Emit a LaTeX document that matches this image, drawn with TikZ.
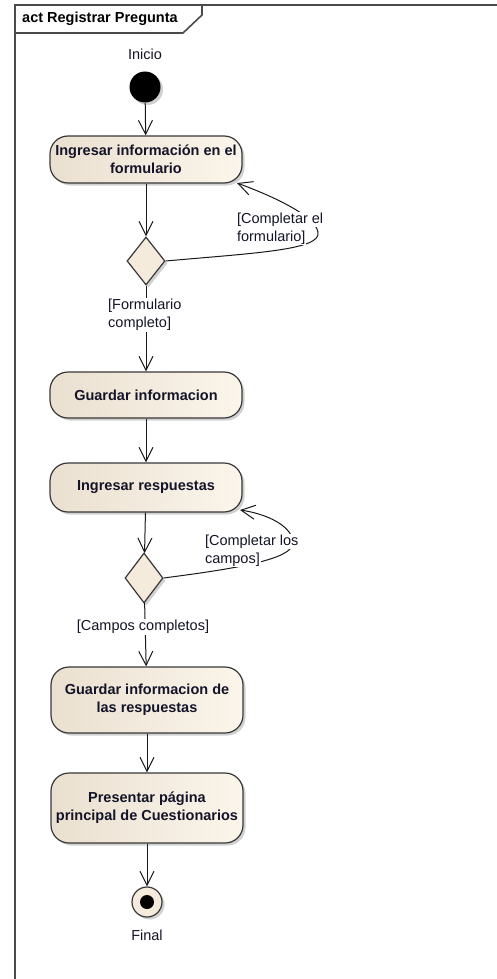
\documentclass[tikz,border=0pt]{standalone}
\usepackage{fontspec}
\setmainfont{Liberation Sans}
\usetikzlibrary{arrows.meta,shapes.geometric,shadows}
\definecolor{actleft}{RGB}{234,224,208}
\definecolor{actright}{RGB}{251,245,235}
\definecolor{actfill}{RGB}{244,235,221}
\definecolor{edgecol}{RGB}{25,25,25}
\definecolor{framecol}{RGB}{75,75,75}
\definecolor{txt}{RGB}{20,20,40}
\setlength{\fboxsep}{0.8pt}
\begin{document}
\begin{tikzpicture}[x=1pt,y=-1pt,
  font=\fontsize{14.5}{18}\selectfont, text=txt,
  softshadow/.style={drop shadow={shadow xshift=2.5pt,shadow yshift=-2.5pt,opacity=0.3,fill=black!60}},
  action/.style={draw=black!78, line width=1.2pt, rounded corners=18pt,
    left color=actleft, right color=actright, minimum width=192pt,
    align=center, inner sep=2pt, softshadow,
    font=\fontsize{14.5}{18}\selectfont\bfseries},
  decision/.style={diamond, draw=black!78, line width=1.2pt, fill=actfill,
    minimum width=38pt, minimum height=48pt, inner sep=0pt, softshadow},
  initial/.style={circle, fill=black, minimum size=31pt, inner sep=0pt, softshadow},
  final/.style={circle, draw=black!78, line width=1.2pt, fill=actfill,
    minimum size=30pt, inner sep=0pt, softshadow,
    path picture={\fill[black] (path picture bounding box.center) circle (7pt);}},
  flow/.style={draw=edgecol, line width=1pt,
    -{Straight Barb[length=14pt,width=14pt,line width=1pt]}},
  guard/.style={inner sep=0pt, align=left},
  caption/.style={inner sep=1pt}
]
\useasboundingbox (0,0) rectangle (497,979);
\fill[white] (0,0) rectangle (497,979);

% frame with its name tab
\draw[framecol, line width=2pt] (15,979) -- (15,5) -- (497,5);
\draw[framecol, line width=1.6pt] (15,33) -- (183,33) -- (202,15) -- (202,5);
\node[caption, font=\fontsize{14.5}{18}\selectfont\bfseries, text=black] (title) at (100,19) {act Registrar Pregunta};

% activity nodes
\node[initial] (start) at (145,87) {};
\node[caption] (startlbl) at (145,54) {Inicio};
\node[action, minimum height=47pt] (a1) at (146,159.5) {Ingresar información en el\\formulario};
\node[decision] (d1) at (146,261) {};
\node[action, minimum height=46pt] (a2) at (146,395) {Guardar informacion};
\node[action, minimum height=49pt] (a3) at (146,487.5) {Ingresar respuestas};
\node[decision, minimum height=50pt] (d2) at (144,578) {};
\node[action, minimum height=66pt] (a4) at (147,700) {Guardar informacion de\\las respuestas};
\node[action, minimum height=70pt] (a5) at (147,808) {Presentar página\\principal de Cuestionarios};
\node[final] (stop) at (147,902) {};
\node[caption] (stoplbl) at (147,935) {Final};

% control flows
\draw[flow] (start) -- (a1);
\draw[flow] (a1) -- (d1);
\draw[flow] (d1) -- (a2);
\draw[flow] (d1.east) .. controls (255,253) and (322,250) .. (318,232)
  .. controls (315,216) and (275,197) .. (237,183);
\draw[flow] (a2) -- (a3);
\draw[flow] (a3) -- (d2);
\draw[flow] (d2) -- (a4);
\draw[flow] (d2.east) .. controls (225,570) and (286,561) .. (292,546)
  .. controls (297,531) and (274,515) .. (240,510);
\draw[flow] (a4) -- (a5);
\draw[flow] (a5) -- (stop);

% guards
\node[guard, anchor=north west] (g1) at (236,212)
  {\colorbox{white}{[Completar el}\\\colorbox{white}{formulario]}};
\node[guard, fill=white, inner sep=1pt, anchor=north west] (g2) at (107,298)
  {[Formulario\\completo]};
\node[guard, anchor=north west] (g3) at (204,534)
  {\colorbox{white}{[Completar los}\\\colorbox{white}{campos]}};
\node[guard, fill=white, inner sep=1pt] (g4) at (143,627) {[Campos completos]};
\end{tikzpicture}
\end{document}
